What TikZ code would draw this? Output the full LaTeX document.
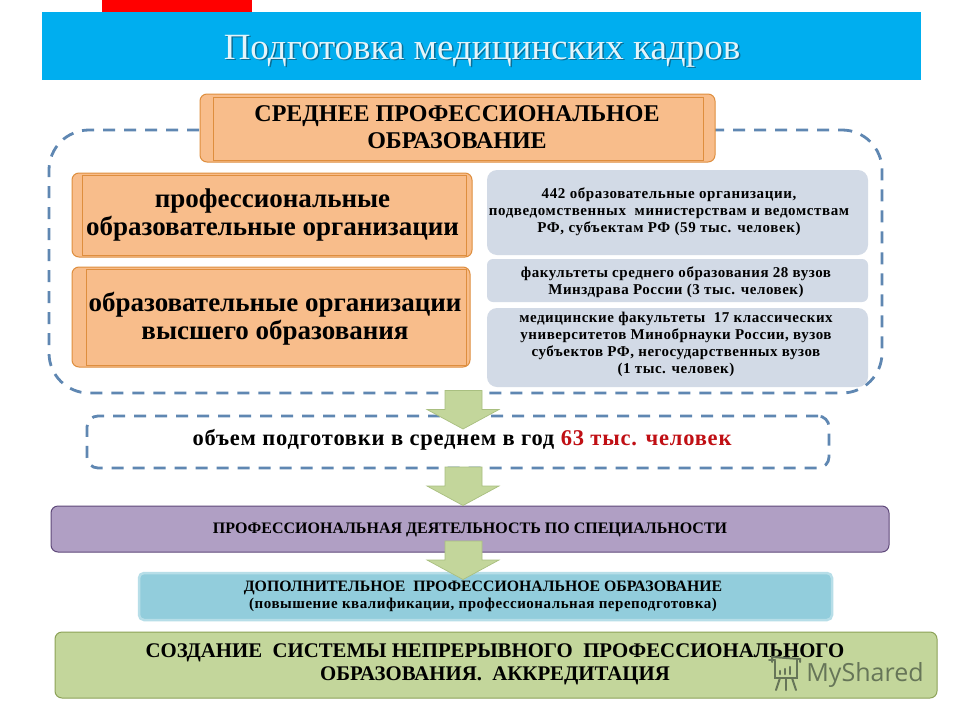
\documentclass[tikz,border=0pt]{standalone}
\usepackage{fontspec}
\setmainfont{Liberation Serif}
\newfontfamily\wmfont{Open Sans}
\newfontfamily\spaced[LetterSpace=3.5]{Liberation Serif}
\newfontfamily\spacedw[LetterSpace=4]{Liberation Serif}
\definecolor{hdr}{HTML}{00AEEF}
\definecolor{redbar}{HTML}{FF0000}
\definecolor{orfill}{HTML}{F8BD8B}
\definecolor{ordraw}{HTML}{DE8E3E}
\definecolor{grayblue}{HTML}{D2DAE6}
\definecolor{dashc}{HTML}{5F87B2}
\definecolor{purp}{HTML}{B09FC4}
\definecolor{purpd}{HTML}{5F497A}
\definecolor{ltblue}{HTML}{92CDDC}
\definecolor{ltblued}{HTML}{B7DEE8}
\definecolor{grn}{HTML}{C3D69B}
\definecolor{grnd}{HTML}{A9BF80}
\definecolor{grndk}{HTML}{8CA257}
\definecolor{wm}{HTML}{667558}
\definecolor{titlec}{HTML}{E4F4FA}
\definecolor{titlesh}{HTML}{0A6E97}
\definecolor{redtxt}{HTML}{C00F14}
\newcommand{\fsz}[2]{\fontsize{#1}{#2}\selectfont}
\newcommand{\shtext}[3]{\makebox[0pt][l]{\hspace{#1}\raisebox{-#1}{\textcolor{#2}{#3}}}#3}
\tikzset{
  box/.style={rounded corners=7pt,inner sep=0pt,outer sep=0pt,anchor=north west},
  orbox/.style={box,fill=orfill,draw=ordraw,line width=1pt},
  orinner/.style={draw=ordraw,line width=0.9pt,inner sep=0pt,outer sep=0pt,anchor=north west},
  graybox/.style={box,fill=grayblue,rounded corners=10pt},
  dashbox/.style={box,draw=dashc,line width=2.8pt,dash pattern=on 12pt off 9pt},
  lbl/.style={inner sep=0pt,outer sep=0pt,align=center,font=\bfseries,text=black},
  blockarr/.style={fill=grn,draw=grnd,line width=0.7pt},
}
\newcommand{\blockarrow}[1]{%
  \draw[blockarr] (445,#1) -- (482,#1) -- (482,#1+19) -- (499,#1+19) -- (463,#1+38.5) -- (427,#1+19) -- (445,#1+19) -- cycle;}
\begin{document}
\begin{tikzpicture}[x=1pt,y=-1pt]
\path[use as bounding box,fill=white] (0,0) rectangle (960,720);
% header
\node[anchor=north west,fill=redbar,minimum width=150pt,minimum height=12pt,inner sep=0pt,outer sep=0pt] (redtab) at (102,0) {};
\node[anchor=north west,fill=hdr,minimum width=879pt,minimum height=68pt,inner sep=0pt,outer sep=0pt] (header) at (42,12) {};
\node[inner sep=0pt,text=titlec,font=\fsz{37}{40}] (title) at (482,52) {\shtext{1.5pt}{titlesh}{Подготовка медицинских кадров}};
% big dashed
\node[dashbox,dash phase=8pt,rounded corners=40pt,minimum width=833pt,minimum height=263pt] (frame) at (49,130) {};
% top
\node[orbox,minimum width=515pt,minimum height=68pt] (top) at (200,94) {};
\node[orinner,minimum width=490pt,minimum height=63pt] (topin) at (213,97) {};
\node[lbl,font=\bfseries\fsz{24}{27}] (toptxt) at (457,127) {СРЕДНЕЕ ПРОФЕССИОНАЛЬНОЕ\\ОБРАЗОВАНИЕ};
% left
\node[orbox,minimum width=400pt,minimum height=84pt] (l1) at (72,173) {};
\node[orinner,minimum width=384pt,minimum height=80pt] (l1in) at (82,175) {};
\node[lbl,font=\bfseries\fsz{27}{28}] (l1txt) at (272.5,215) {профессиональные\\образовательные организации};
\node[orbox,minimum width=398pt,minimum height=100pt] (l2) at (72,267) {};
\node[orinner,minimum width=380pt,minimum height=96pt] (l2in) at (86,269) {};
\node[lbl,font=\bfseries\fsz{27}{28}] (l2txt) at (275,319) {образовательные организации\\высшего образования};
% right
\node[graybox,minimum width=381pt,minimum height=85pt] (r1) at (487,170) {};
\node[lbl,font=\bfseries\spacedw\fsz{15}{17}] (r1txt) at (669,212) {442 образовательные организации,\\подведомственных ~министерствам и ведомствам\\РФ, субъектам РФ (59 тыс. человек)};
\node[graybox,rounded corners=6pt,minimum width=381pt,minimum height=43pt] (r2) at (487,259) {};
\node[lbl,font=\bfseries\spaced\fsz{15}{16.5}] (r2txt) at (676,282) {факультеты среднего образования 28 вузов\\Минздрава России (3 тыс. человек)};
\node[graybox,minimum width=381pt,minimum height=79pt] (r3) at (487,308) {};
\node[lbl,font=\bfseries\spaced\fsz{15}{17}] (r3txt) at (676,344.5) {медицинские факультеты ~17 классических\\университетов Минобрнауки России, вузов\\субъектов РФ, негосударственных вузов\\(1 тыс. человек)};
% volume
\node[dashbox,rounded corners=11pt,minimum width=742pt,minimum height=52pt] (vol) at (87,416) {};
\node[lbl,font=\bfseries\spaced\fsz{22.5}{24}] (voltxt) at (462,440) {объем подготовки в среднем в год \textcolor{redtxt}{63 тыс. человек}};
% purple
\node[box,fill=purp,draw=purpd,line width=1pt,minimum width=838pt,minimum height=46pt] (pur) at (51,506) {};
\node[lbl,font=\bfseries\fsz{16}{18}] (purtxt) at (470,530) {ПРОФЕССИОНАЛЬНАЯ ДЕЯТЕЛЬНОСТЬ ПО СПЕЦИАЛЬНОСТИ};
% light blue
\node[box,fill=ltblue,draw=ltblued,line width=2.5pt,rounded corners=5pt,minimum width=693pt,minimum height=47pt] (dpo) at (139,573) {};
\node[lbl,font=\bfseries\fsz{15.8}{17}] (dpotxt) at (483,596.5) {ДОПОЛНИТЕЛЬНОЕ ~ПРОФЕССИОНАЛЬНОЕ ОБРАЗОВАНИЕ\\{\spaced\fsz{15}{17}(повышение квалификации, профессиональная переподготовка)}};
% arrows
\blockarrow{390.5}
\blockarrow{467}
\blockarrow{541}
% green
\node[box,fill=grn,draw=grndk,line width=1pt,minimum width=882pt,minimum height=66pt] (cr) at (55,632) {};
\node[lbl,font=\bfseries\fsz{20.8}{23}] (crtxt) at (495,664.5) {СОЗДАНИЕ ~СИСТЕМЫ НЕПРЕРЫВНОГО ~ПРОФЕССИОНАЛЬНОГО\\ОБРАЗОВАНИЯ. ~АККРЕДИТАЦИЯ};
% watermark
\begin{scope}[draw=wm,line width=2pt,line cap=round]
\draw (772,662) -- (772,657) -- (800,659) -- (800,662);
\draw (775,661) -- (775,678) -- (797,678) -- (797,660);
\draw (769,660) -- (775,660);
\draw (780,678) -- (776,690);
\draw (786,678) -- (786,690);
\draw (792,678) -- (796,690);
\draw[line width=2.4pt] (780,674) -- (780,671) (785,674) -- (785,669) (790,674) -- (790,667);
\end{scope}
\node[inner sep=0pt,text=wm,font=\wmfont\fsz{25}{30}] (mark) at (865,675) {MyShared};
\end{tikzpicture}
\end{document}
